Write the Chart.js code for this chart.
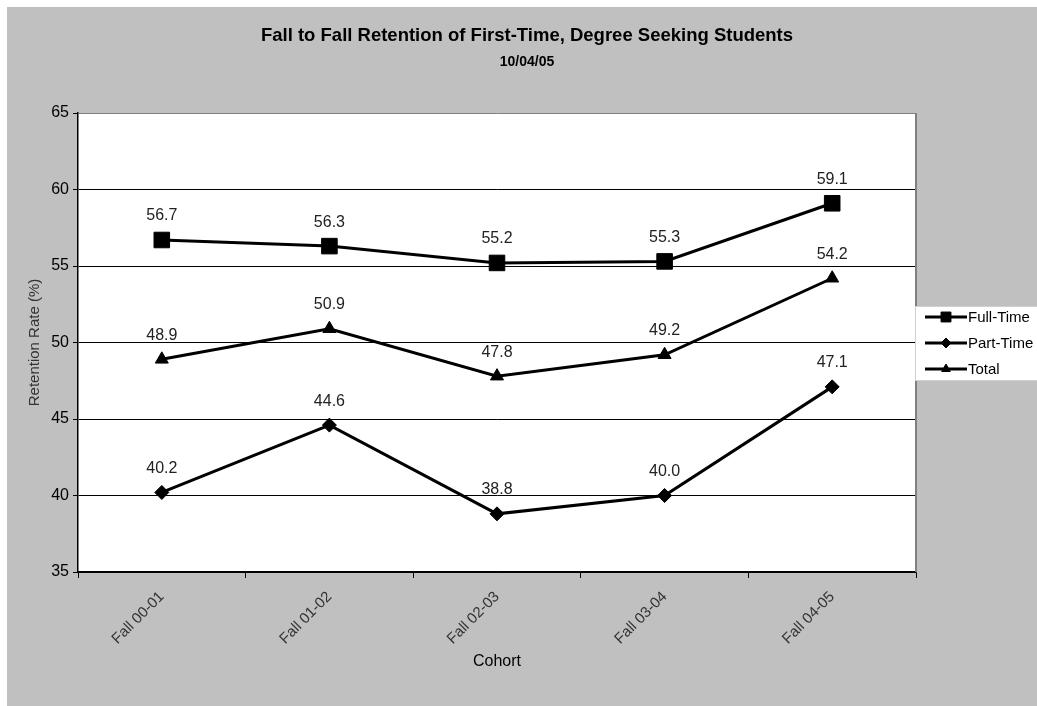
<!DOCTYPE html>
<html>
<head>
<meta charset="utf-8">
<script src="https://cdn.jsdelivr.net/npm/chart.js@4.4.0/dist/chart.umd.min.js"></script>
<style>
  html, body { margin: 0; padding: 0; background: #fff; }
  canvas { display: block; }
</style>
</head>
<body>
<canvas id="retentionChart" width="1037" height="706"></canvas>
<script>
const cohorts = ['Fall 00-01', 'Fall 01-02', 'Fall 02-03', 'Fall 03-04', 'Fall 04-05'];
const fullTime = [56.7, 56.3, 55.2, 55.3, 59.1];
const partTime = [40.2, 44.6, 38.8, 40.0, 47.1];
const total = [48.9, 50.9, 47.8, 49.2, 54.2];
const yTicks = [35, 40, 45, 50, 55, 60, 65];

const chartTitle = 'Fall to Fall Retention of First-Time, Degree Seeking Students';
const chartSubtitle = '10/04/05';

const FONT = '"Liberation Sans", Arial, sans-serif';
Chart.defaults.font.family = FONT;

// gray page, white plot area, titles and the boxed legend on the right
const frame = {
    id: 'frame',
    beforeDraw(chart) {
        const { ctx, chartArea: a, width, height } = chart;
        ctx.save();
        ctx.fillStyle = '#fff';
        ctx.fillRect(0, 0, width, height);
        ctx.fillStyle = '#c0c0c0';
        ctx.fillRect(7, 7, width - 7, height - 7);
        ctx.fillStyle = '#fff';
        ctx.fillRect(a.left, a.top, a.right - a.left, a.bottom - a.top);
        ctx.restore();
    },
    afterDraw(chart) {
        const { ctx, chartArea: a } = chart;
        ctx.save();
        ctx.strokeStyle = '#808080';
        ctx.lineWidth = 2;
        ctx.beginPath();
        ctx.moveTo(a.right, a.top);
        ctx.lineTo(a.right, a.bottom);
        ctx.stroke();

        ctx.fillStyle = '#000';
        ctx.textAlign = 'center';
        ctx.textBaseline = 'middle';
        ctx.font = 'bold 18.5px ' + FONT;
        ctx.fillText(chartTitle, 527, 36);
        ctx.font = 'bold 14px ' + FONT;
        ctx.fillText(chartSubtitle, 527, 62);

        // legend
        ctx.fillStyle = '#fff';
        ctx.fillRect(915, 306, 122, 75);
        ctx.strokeStyle = '#d0d0d0';
        ctx.lineWidth = 1;
        ctx.strokeRect(915.5, 306.5, 122, 74);
        const legendR = [7, 5, 5];
        chart.data.datasets.forEach((ds, i) => {
            const y = 317 + i * 26;
            ctx.strokeStyle = '#000';
            ctx.lineWidth = 3;
            ctx.beginPath();
            ctx.moveTo(925, y);
            ctx.lineTo(967, y);
            ctx.stroke();
            ctx.fillStyle = '#000';
            ctx.lineWidth = 1;
            Chart.helpers.drawPoint(ctx, { pointStyle: ds.pointStyle, radius: legendR[i], rotation: 0, borderWidth: 1 }, 946, y);
            ctx.fillStyle = '#000';
            ctx.font = '15px ' + FONT;
            ctx.textAlign = 'left';
            ctx.fillText(ds.label, 968, y + 1);
        });
        ctx.restore();
    }
};

// value written above each point
const valueLabels = {
    id: 'valueLabels',
    afterDatasetsDraw(chart) {
        const { ctx } = chart;
        ctx.save();
        ctx.font = '16px ' + FONT;
        ctx.fillStyle = '#222';
        ctx.textAlign = 'center';
        ctx.textBaseline = 'middle';
        chart.data.datasets.forEach((ds, i) => {
            chart.getDatasetMeta(i).data.forEach((pt, j) => {
                ctx.fillText(ds.data[j].toFixed(1), pt.x, pt.y - 24);
            });
        });
        ctx.restore();
    }
};

const lineStyle = { borderColor: '#000', backgroundColor: '#000', borderWidth: 3, pointBorderWidth: 1, tension: 0 };

const ctx = document.getElementById('retentionChart').getContext('2d');
new Chart(ctx, {
    type: 'line',
    data: {
        labels: cohorts,
        datasets: [
            { ...lineStyle, label: 'Full-Time', data: fullTime, pointStyle: 'rect', pointRadius: 11 },
            { ...lineStyle, label: 'Part-Time', data: partTime, pointStyle: 'rectRot', pointRadius: 7 },
            { ...lineStyle, label: 'Total', data: total, pointStyle: 'triangle', pointRadius: 7.5 }
        ]
    },
    options: {
        responsive: false,
        animation: false,
        events: [],
        devicePixelRatio: 1,
        layout: { padding: { left: 7, top: 113, right: 121, bottom: 0 } },
        plugins: {
            legend: { display: false },
            tooltip: { enabled: false }
        },
        scales: {
            x: {
                offset: true,
                grid: { offset: true, drawOnChartArea: false, tickLength: 6, color: '#000' },
                border: { color: '#000', width: 1.5 },
                ticks: { minRotation: 45, maxRotation: 45, font: { size: 15 }, color: '#333', padding: 10 },
                title: { display: true, text: 'Cohort', font: { size: 16 }, color: '#000', padding: { top: 4, bottom: 35 } },
                afterFit(scale) { scale.height = 134; }
            },
            y: {
                min: 35,
                max: 65,
                afterBuildTicks(scale) { scale.ticks = yTicks.map(v => ({ value: v })); },
                grid: {
                    color: c => (c.tick && c.tick.value === 65 ? '#808080' : '#000'),
                    tickColor: '#000',
                    tickLength: 5
                },
                border: { color: '#000', width: 1.5 },
                ticks: { font: { size: 16 }, color: '#000', padding: 4 },
                title: { display: true, text: 'Retention Rate (%)', font: { size: 15 }, color: '#333', padding: { top: 19, bottom: 0 } },
                afterFit(scale) { scale.width = 71; }
            }
        }
    },
    plugins: [frame, valueLabels]
});
</script>
</body>
</html>
